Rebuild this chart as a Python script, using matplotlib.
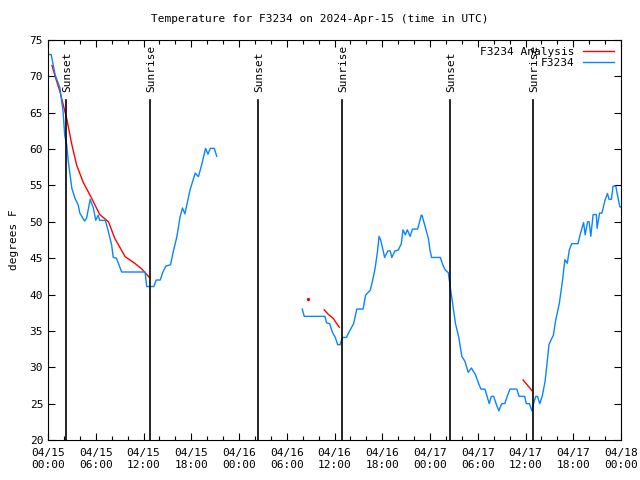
import matplotlib
matplotlib.use("Agg")
import matplotlib.pyplot as plt
import numpy as np

# hours since 2024-04-15 00:00 UTC
obs_hours_1 = [0.0, 0.4, 0.9, 1.5, 1.9, 2.1, 2.35, 2.55, 3.0, 3.4, 3.8, 4.0, 4.6, 4.85,
               5.3, 5.7, 6.0, 6.3, 6.5, 7.2, 7.6, 8.0, 8.2, 8.6, 9.05, 9.25, 12.2, 12.4,
               13.3, 13.6, 14.1, 14.4, 14.8, 15.4, 15.7, 16.2, 16.6, 16.9, 17.2, 17.4,
               17.85, 18.5, 18.9, 19.3, 19.8, 20.1, 20.4, 20.9, 21.2]
obs_temp_1 = [73.0, 73.0, 70.2, 68.4, 65.1, 61.9, 60.6, 58.3, 54.6, 53.2, 52.3, 51.2, 50.1, 50.5,
              53.1, 51.9, 50.2, 50.9, 50.2, 50.2, 48.6, 46.8, 45.1, 45.0, 43.7, 43.1, 43.1, 41.1,
              41.1, 42.0, 42.0, 43.0, 43.9, 44.1, 45.7, 48.0, 50.7, 51.9, 51.1, 52.1,
              54.4, 56.7, 56.2, 57.8, 60.1, 59.3, 60.1, 60.1, 59.0]

obs_hours_2 = [31.95, 32.2, 34.8, 35.0, 35.4, 35.7, 36.1, 36.4, 36.7, 37.0, 37.5, 37.9, 38.4,
               38.8, 39.6, 39.9, 40.5, 40.8, 41.1, 41.4, 41.6, 41.8, 42.1, 42.3, 42.7, 43.0,
               43.2, 43.6, 44.0, 44.4, 44.6, 44.9, 45.15, 45.5, 45.8, 46.45, 46.9, 47.0, 47.4,
               47.8, 48.0, 48.2, 49.3, 49.6, 49.9, 50.3, 50.6, 50.9, 51.2, 51.6, 52.0, 52.4,
               52.8, 53.2, 53.7, 54.1, 54.4, 54.9, 55.45, 55.7, 56.0, 56.3, 56.65, 57.0, 57.4,
               57.7, 58.05, 58.9, 59.2, 59.9, 60.1, 60.5, 60.8, 61.0, 61.3, 61.5, 61.8, 62.1,
               62.45, 62.75, 62.95, 63.1, 63.5, 63.8, 64.25, 64.6, 64.95, 65.25, 65.5, 65.8,
               66.6, 66.9, 67.3, 67.5, 67.8, 68.0, 68.2, 68.5, 68.9, 69.0, 69.3, 69.6, 70.0,
               70.3, 70.5, 70.8, 71.0, 71.35, 71.55, 71.85, 72.0]
obs_temp_2 = [38.0, 37.0, 37.0, 36.1, 36.0, 34.9, 34.1, 33.1, 33.1, 34.1, 34.1, 35.0, 36.0,
              38.0, 38.0, 39.9, 40.6, 42.0, 43.6, 45.9, 48.0, 47.5, 46.1, 45.1, 46.0, 46.0,
              45.1, 46.0, 46.1, 47.0, 48.9, 48.2, 48.9, 48.0, 49.0, 49.0, 50.9, 50.9, 49.3,
              47.7, 46.1, 45.1, 45.1, 44.1, 43.4, 43.0, 40.6, 38.3, 36.0, 34.2, 31.5, 30.8,
              29.3, 29.9, 29.0, 27.8, 27.0, 27.0, 25.0, 26.0, 26.0, 25.0, 24.0, 25.0, 25.0,
              26.0, 27.0, 27.0, 26.0, 26.0, 25.0, 25.0, 24.0, 25.0, 26.0, 26.0, 25.0, 26.0,
              28.0, 31.0, 33.1, 33.5, 34.4, 36.5, 38.8, 41.5, 44.8, 44.3, 46.1, 47.0,
              47.0, 48.4, 49.9, 48.2, 50.0, 50.0, 48.0, 51.0, 51.0, 49.1, 51.2, 51.2, 53.0,
              53.9, 53.1, 53.1, 54.9, 54.9, 53.7, 52.1, 52.0]

ana_hours_1 = [0.5, 0.9, 1.5, 2.35, 3.0, 3.6, 4.4, 5.5, 6.5, 7.6, 8.4, 9.7, 10.9, 11.8, 12.7]
ana_temp_1 = [71.5, 70.0, 67.9, 64.2, 60.6, 57.8, 55.5, 53.2, 51.0, 50.0, 47.7, 45.2, 44.3, 43.5, 42.4]
ana_hours_2 = [34.7, 35.2, 35.85, 36.6]
ana_temp_2 = [37.9, 37.3, 36.7, 35.5]
ana_dot_hours = [32.7]
ana_dot_temp = [39.4]
ana_hours_3 = [59.7, 60.2, 60.8]
ana_temp_3 = [28.25, 27.6, 26.8]

sun_hours = [2.3, 12.85, 26.4, 36.98, 50.55, 60.98]
sun_labels = ["Sunset", "Sunrise", "Sunset", "Sunrise", "Sunset", "Sunrise"]

tick_hours = list(range(0, 73, 6))
tick_labels = ["04/15\n00:00", "04/15\n06:00", "04/15\n12:00", "04/15\n18:00",
               "04/16\n00:00", "04/16\n06:00", "04/16\n12:00", "04/16\n18:00",
               "04/17\n00:00", "04/17\n06:00", "04/17\n12:00", "04/17\n18:00",
               "04/18\n00:00"]

plt.rcParams['font.family'] = ['DejaVu Sans Mono']
plt.rcParams['font.size'] = 7.5

red = '#ff0000'
blue = '#0a84ff'

fig = plt.figure(figsize=(6.4, 4.8), dpi=100)
ax = fig.add_axes([48 / 640, 40 / 480, 573 / 640, 400 / 480])

ax.plot(ana_hours_1, ana_temp_1, color=red, lw=1, label='F3234 Analysis')
ax.plot(ana_hours_2, ana_temp_2, color=red, lw=1)
ax.plot(ana_hours_3, ana_temp_3, color=red, lw=1)
ax.plot(ana_dot_hours, ana_dot_temp, color=red, marker='s', ms=1.2, lw=0)
ax.plot(obs_hours_1, obs_temp_1, color=blue, lw=1, label='F3234')
ax.plot(obs_hours_2, obs_temp_2, color=blue, lw=1)

for h, lab in zip(sun_hours, sun_labels):
    ax.plot([h, h], [20, 66.7], color='black', lw=1.2)
    ax.text(h + 0.15, 67.8, lab, rotation=90, ha='center', va='bottom', fontsize=8)

ax.set_xlim(0, 72)
ax.set_ylim(20, 75)
ax.set_xticks(tick_hours)
ax.set_xticklabels(tick_labels)
ax.set_xticks(np.arange(0, 73, 2), minor=True)
ax.set_yticks(np.arange(20, 76, 5))
ax.tick_params(which='both', direction='in', top=True, right=True, width=0.8, labelsize=8)
ax.tick_params(which='major', length=5)
ax.tick_params(which='minor', length=3)
ax.tick_params(axis='x', pad=6)
for s in ax.spines.values():
    s.set_linewidth(0.8)

ax.set_ylabel('degrees F', fontsize=8, labelpad=8)
fig.text(0.5, 0.96, 'Temperature for F3234 on 2024-Apr-15 (time in UTC)',
         ha='center', va='center', fontsize=8)

ax.legend(loc='upper right', frameon=False, markerfirst=False, fontsize=8,
          handlelength=2.8, handletextpad=0.8, borderaxespad=0.2, labelspacing=0.1)

fig.savefig('out.png', dpi=100)
